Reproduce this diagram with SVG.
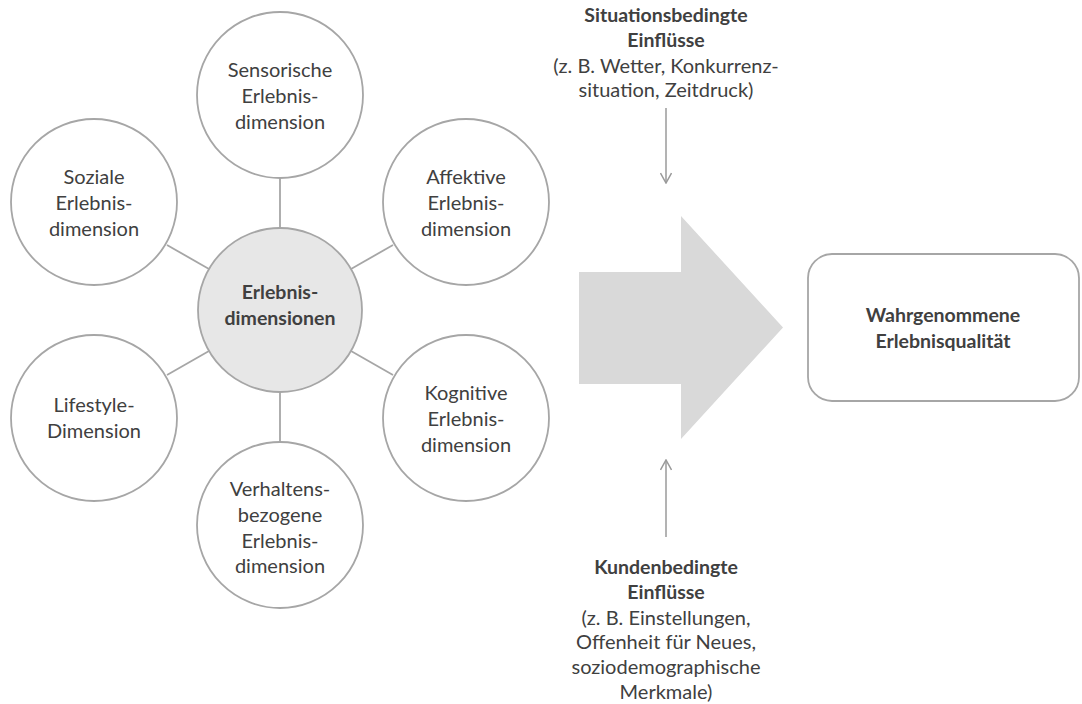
<svg xmlns="http://www.w3.org/2000/svg" width="1082" height="704" viewBox="0 0 1082 704">
<style>
  .c{fill:#ffffff;stroke:#a6a6a6;stroke-width:1.8}
  .cc{fill:#e7e7e7;stroke:#a6a6a6;stroke-width:1.8}
  .t{font-family:Lato,"Open Sans",sans-serif;font-size:20px;fill:#404040;text-anchor:middle}
  .b{font-weight:bold;font-size:19.5px}
  .ln{stroke:#a6a6a6;stroke-width:1.8;fill:none}
  .ar{stroke:#9a9a9a;stroke-width:1.5;fill:none}
</style>
<defs>
  <marker id="ah" viewBox="0 0 12 12" refX="11" refY="6" markerWidth="12" markerHeight="12" markerUnits="userSpaceOnUse" orient="auto">
    <path d="M1,0.5 L11,6 L1,11.5" fill="none" stroke="#9a9a9a" stroke-width="1.5"/>
  </marker>
</defs>
<rect width="1082" height="704" fill="#ffffff"/>
<g id="connectors">
  <line class="ln" x1="280" y1="178" x2="280" y2="228"/>
  <line class="ln" x1="280" y1="392" x2="280" y2="442"/>
  <line class="ln" x1="167" y1="245" x2="209" y2="269"/>
  <line class="ln" x1="393" y1="245" x2="351" y2="269"/>
  <line class="ln" x1="167" y1="375" x2="209" y2="351"/>
  <line class="ln" x1="393" y1="375" x2="351" y2="351"/>
  <line class="ar" x1="666" y1="108" x2="666" y2="183" marker-end="url(#ah)"/>
  <line class="ar" x1="666" y1="537" x2="666" y2="460" marker-end="url(#ah)"/>
</g>
<g id="bigarrow">
  <polygon points="579,272 681,272 681,216 783,327.5 681,439 681,384 579,384" fill="#d9d9d9"/>
</g>
<g id="center">
  <circle class="cc" cx="280" cy="310" r="82"/>
  <text class="t b" x="280" y="299">Erlebnis-</text>
  <text class="t b" x="280" y="325">dimensionen</text>
</g>
<g id="sensorisch">
  <circle class="c" cx="280" cy="95" r="83"/>
  <text class="t" x="280" y="77">Sensorische</text>
  <text class="t" x="280" y="103">Erlebnis-</text>
  <text class="t" x="280" y="129">dimension</text>
</g>
<g id="sozial">
  <circle class="c" cx="94" cy="202" r="83"/>
  <text class="t" x="94" y="184">Soziale</text>
  <text class="t" x="94" y="210">Erlebnis-</text>
  <text class="t" x="94" y="236">dimension</text>
</g>
<g id="affektiv">
  <circle class="c" cx="466" cy="202" r="83"/>
  <text class="t" x="466" y="184">Affektive</text>
  <text class="t" x="466" y="210">Erlebnis-</text>
  <text class="t" x="466" y="236">dimension</text>
</g>
<g id="lifestyle">
  <circle class="c" cx="94" cy="418" r="83"/>
  <text class="t" x="94" y="412">Lifestyle-</text>
  <text class="t" x="94" y="438">Dimension</text>
</g>
<g id="kognitiv">
  <circle class="c" cx="466" cy="418" r="83"/>
  <text class="t" x="466" y="400">Kognitive</text>
  <text class="t" x="466" y="426">Erlebnis-</text>
  <text class="t" x="466" y="452">dimension</text>
</g>
<g id="verhalten">
  <circle class="c" cx="280" cy="525" r="83"/>
  <text class="t" x="280" y="496">Verhaltens-</text>
  <text class="t" x="280" y="522">bezogene</text>
  <text class="t" x="280" y="548">Erlebnis-</text>
  <text class="t" x="280" y="573">dimension</text>
</g>
<g id="situation">
  <text class="t b" x="666" y="22">Situationsbedingte</text>
  <text class="t b" x="666" y="47">Einflüsse</text>
  <text class="t" x="666" y="73">(z. B. Wetter, Konkurrenz-</text>
  <text class="t" x="666" y="97">situation, Zeitdruck)</text>
</g>
<g id="kunden">
  <text class="t b" x="666" y="574">Kundenbedingte</text>
  <text class="t b" x="666" y="599">Einflüsse</text>
  <text class="t" x="666" y="625">(z. B. Einstellungen,</text>
  <text class="t" x="666" y="649">Offenheit für Neues,</text>
  <text class="t" x="666" y="674">soziodemographische</text>
  <text class="t" x="666" y="699">Merkmale)</text>
</g>
<g id="qualitaet">
  <rect class="c" x="808" y="254" width="271" height="147" rx="24" ry="24"/>
  <text class="t b" x="943" y="322">Wahrgenommene</text>
  <text class="t b" x="943" y="348">Erlebnisqualität</text>
</g>
</svg>
